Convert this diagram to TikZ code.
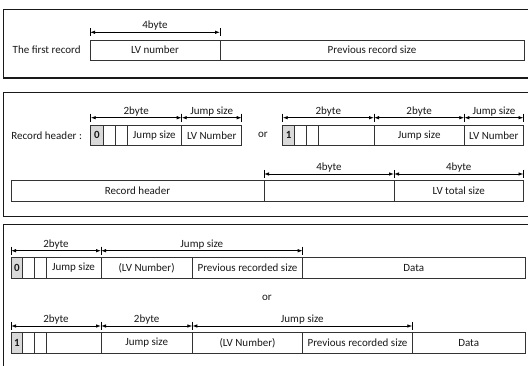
\documentclass[tikz,border=0pt]{standalone}
\usepackage{fontspec}
\setmainfont{Carlito}
\usetikzlibrary{arrows.meta,calc}
\tikzset{
 x=1pt, y=-1pt,
 txt/.style={font=\fontsize{11}{13}\selectfont, text=black!90},
 cell/.style={txt, draw=black!80, line width=0.8pt, anchor=north west, inner sep=0pt, outer sep=0pt},
 bitcell/.style={cell, fill=black!15, font=\fontsize{11}{13}\selectfont\bfseries},
 panelframe/.style={draw=black!90, line width=1.2pt},
 dimarrow/.style={{Latex[length=5pt,width=3.5pt]}-{Latex[length=5pt,width=3.5pt]}, line width=0.8pt},
 dimbar/.style={line width=0.8pt},
 dimlbl/.style={txt, above, inner sep=1.5pt},
}
\newcommand\cellbox[7]{% style, name, x1, x2, ytop, ybot, text
 \pgfmathsetmacro\cbw{#4-#3}\pgfmathsetmacro\cbh{#6-#5}%
 \node[#1, minimum width=\cbw pt, minimum height=\cbh pt] (#2) at (#3,#5) {#7};}
\newcommand\dimarr[4]{% start anchor, end anchor, rise, label
 \coordinate (dA) at ($(#1)+(0,-#3)$);
 \coordinate (dB) at ($(#2)+(0,-#3)$);
 \draw[dimarrow] (dA) -- node[dimlbl]{#4} (dB);
 \draw[dimbar] ($(dA)+(0,-4)$) -- ($(dA)+(0,4)$);
 \draw[dimbar] ($(dB)+(0,-4)$) -- ($(dB)+(0,4)$);}
\begin{document}
\begin{tikzpicture}
\clip (0,0) rectangle (528,366);
\fill[white] (0,0) rectangle (528,366);
% panel frames
\draw[panelframe] (3.3,9.3) rectangle (560,78);
\draw[panelframe] (3.3,92.7) rectangle (560,216.5);
\draw[panelframe] (3.3,224.7) rectangle (560,400);

% panel 1
\node[txt] (t1) at (46.7,50) {The first record};
\cellbox{cell}{p1a}{90}{220}{40}{60}{LV number}
\cellbox{cell}{p1b}{220}{524}{40}{60}{Previous record size}
\dimarr{p1a.north west}{p1a.north east}{7.7}{4byte}

% panel 2 upper
\node[txt] (t2) at (46.7,135.3) {Record header :};
\cellbox{bitcell}{h0}{90.7}{103}{125}{145.5}{0}
\cellbox{cell}{h0b}{103}{115}{125}{145.5}{}
\cellbox{cell}{h0c}{115}{127}{125}{145.5}{}
\cellbox{cell}{h0d}{127}{181.7}{125}{145.5}{Jump size}
\cellbox{cell}{h0e}{181.7}{241.7}{125}{145.5}{LV Number}
\dimarr{h0.north west}{h0d.north east}{7.3}{2byte}
\dimarr{h0e.north west}{h0e.north east}{7.3}{Jump size}
\node[txt] (or1) at (263,135.3) {or};
\cellbox{bitcell}{h1}{282.7}{294.5}{125}{145.5}{1}
\cellbox{cell}{h1b}{294.5}{306.7}{125}{145.5}{}
\cellbox{cell}{h1c}{306.7}{318.7}{125}{145.5}{}
\cellbox{cell}{h1d}{318.7}{374}{125}{145.5}{}
\cellbox{cell}{h1e}{374}{464.3}{125}{145.5}{Jump size}
\cellbox{cell}{h1f}{464.3}{523.5}{125}{145.5}{LV Number}
\dimarr{h1.north west}{h1d.north east}{7.3}{2byte}
\dimarr{h1e.north west}{h1e.north east}{7.3}{2byte}
\dimarr{h1f.north west}{h1f.north east}{7.3}{Jump size}

% panel 2 lower
\cellbox{cell}{r1}{11}{264}{180}{201}{Record header}
\cellbox{cell}{r2}{264}{394}{180}{201}{}
\cellbox{cell}{r3}{394}{523.5}{180}{201}{LV total size}
\dimarr{r2.north west}{r2.north east}{6}{4byte}
\dimarr{r3.north west}{r3.north east}{6}{4byte}

% panel 3 row 1
\cellbox{bitcell}{a0}{11}{22.7}{257.3}{278.3}{0}
\cellbox{cell}{a1}{22.7}{34.3}{257.3}{278.3}{}
\cellbox{cell}{a2}{34.3}{46}{257.3}{278.3}{}
\cellbox{cell}{a3}{46}{101}{257.3}{278.3}{Jump size}
\cellbox{cell}{a4}{101}{192.3}{257.3}{278.3}{(LV Number)}
\cellbox{cell}{a5}{192.3}{302.7}{257.3}{278.3}{Previous recorded size}
\cellbox{cell}{a6}{302.7}{525}{257.3}{278.3}{Data}
\dimarr{a0.north west}{a3.north east}{6.6}{2byte}
\dimarr{a4.north west}{a5.north east}{6.6}{Jump size}

\node[txt] (or2) at (267,298.3) {or};

% panel 3 row 2
\cellbox{bitcell}{b0}{11}{22.7}{332.7}{353.3}{1}
\cellbox{cell}{b1}{22.7}{34.3}{332.7}{353.3}{}
\cellbox{cell}{b2}{34.3}{46}{332.7}{353.3}{}
\cellbox{cell}{b3}{46}{101}{332.7}{353.3}{}
\cellbox{cell}{b4}{101}{192.3}{332.7}{353.3}{Jump size}
\cellbox{cell}{b5}{192.3}{302.7}{332.7}{353.3}{(LV Number)}
\cellbox{cell}{b6}{302.7}{412.3}{332.7}{353.3}{Previous recorded size}
\cellbox{cell}{b7}{412.3}{525}{332.7}{353.3}{Data}
\dimarr{b0.north west}{b3.north east}{6.7}{2byte}
\dimarr{b4.north west}{b4.north east}{6.7}{2byte}
\dimarr{b5.north west}{b6.north east}{6.7}{Jump size}
\end{tikzpicture}
\end{document}
